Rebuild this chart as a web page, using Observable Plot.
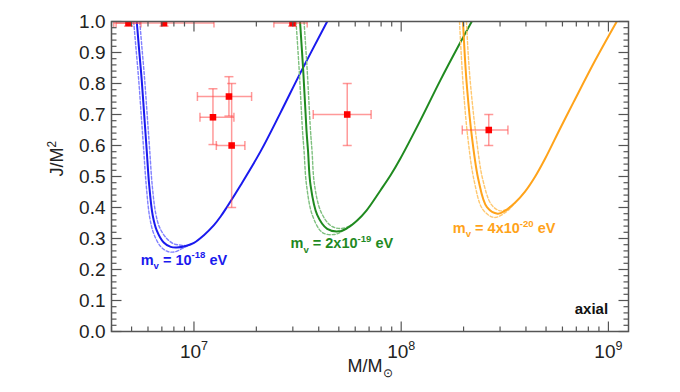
<!DOCTYPE html>
<html><head><meta charset="utf-8">
<script src="https://cdn.jsdelivr.net/npm/d3@7"></script>
<script src="https://cdn.jsdelivr.net/npm/@observablehq/plot@0.6"></script>
<style>body{margin:0;background:#fff;}</style>
</head><body><div id="chart"></div>
<script>
// ---- tick values ----
const xMajorTicks = [1e7, 1e8, 1e9];
const xMinorTicks = [4e6, 5e6, 6e6, 7e6, 8e6, 9e6, 2e7, 3e7, 4e7, 5e7, 6e7, 7e7, 8e7, 9e7, 2e8, 3e8, 4e8, 5e8, 6e8, 7e8, 8e8, 9e8];
const yMajorTicks = [0, 0.1, 0.2, 0.3, 0.4, 0.5, 0.6, 0.7, 0.8, 0.9, 1.0];
const yMinorTicks = [0.02,0.04,0.06,0.08,0.12,0.14,0.16,0.18,0.22,0.24,0.26,0.28,0.32,0.34,0.36,0.38,0.42,0.44,0.46,0.48,0.52,0.54,0.56,0.58,0.62,0.64,0.66,0.68,0.72,0.74,0.76,0.78,0.82,0.84,0.86,0.88,0.92,0.94,0.96,0.98];

// ---- curves: [log10(M/Msun), J/M^2] ----
const blueSolid = [[6.7239,1.000],[6.7335,0.923],[6.7480,0.810],[6.7600,0.697],[6.7720,0.584],[6.7841,0.471],[6.8010,0.374],[6.8202,0.326],[6.8540,0.287],[6.8877,0.273],[6.9166,0.271],[6.9600,0.276],[7.0000,0.286],[7.0467,0.310],[7.0964,0.343],[7.1287,0.371],[7.1576,0.400],[7.2250,0.472],[7.3214,0.581],[7.4178,0.706],[7.5142,0.835],[7.6429,1.000]];
const blueLower = [[6.709,1.0],[6.719,0.923],[6.7335,0.810],[6.7456,0.697],[6.7576,0.584],[6.7697,0.471],[6.7865,0.368],[6.8058,0.316],[6.8395,0.274],[6.8733,0.258],[6.907,0.257],[6.9504,0.270],[6.9840,0.282]];
const blueUpper = [[6.7383,1.0],[6.748,0.923],[6.7624,0.810],[6.7745,0.697],[6.7865,0.584],[6.7986,0.471],[6.8154,0.381],[6.8347,0.335],[6.8684,0.300],[6.9022,0.283],[6.9311,0.279],[6.9600,0.277]];

const greenSolid = [[7.5118,1.0],[7.5272,0.842],[7.5431,0.648],[7.5503,0.584],[7.5624,0.473],[7.5947,0.376],[7.6429,0.331],[7.6988,0.323],[7.7407,0.334],[7.7874,0.358],[7.8322,0.390],[7.8997,0.455],[7.9479,0.503],[7.9961,0.558],[8.0925,0.681],[8.1888,0.810],[8.2852,0.932],[8.3406,1.0]];
const greenLower = [[7.4925,1.0],[7.5079,0.842],[7.5238,0.648],[7.5311,0.584],[7.5431,0.473],[7.5720,0.374],[7.6202,0.319],[7.6780,0.313],[7.7200,0.325],[7.7600,0.344]];
const greenUpper = [[7.5311,1.0],[7.5465,0.842],[7.5624,0.648],[7.5696,0.584],[7.5817,0.473],[7.6130,0.386],[7.6588,0.342],[7.7069,0.332],[7.7407,0.337],[7.7600,0.344]];

const orangeSolid = [[8.2982,1.0],[8.3069,0.890],[8.3175,0.788],[8.3416,0.626],[8.3734,0.487],[8.4139,0.401],[8.4659,0.380],[8.5021,0.390],[8.5503,0.416],[8.5985,0.452],[8.6467,0.500],[8.6949,0.558],[8.7671,0.655],[8.8312,0.739],[8.9358,0.874],[9.0404,1.0]];
const orangeLower = [[8.2814,1.0],[8.2901,0.890],[8.2997,0.788],[8.3214,0.626],[8.3527,0.484],[8.3937,0.394],[8.4491,0.368],[8.5069,0.386],[8.5503,0.416]];
const orangeUpper = [[8.3151,1.0],[8.3238,0.890],[8.3358,0.788],[8.3623,0.626],[8.3937,0.490],[8.4346,0.410],[8.4732,0.390],[8.5021,0.392],[8.5262,0.403]];

// ---- measured points with error bars ----
const pointM   = [4.83e6, 7.17e6, 2.99e7, 1.475e7, 1.235e7, 1.52e7, 5.49e7, 2.646e8];
const pointMlo = [4.21e6, 4.10e6, 2.43e7, 1.039e7, 1.069e7, 1.282e7, 3.763e7, 1.971e8];
const pointMhi = [5.55e6, 1.249e7, 3.52e7, 1.897e7, 1.559e7, 1.761e7, 7.16e7, 3.274e8];
const pointJ   = [0.995, 0.995, 0.995, 0.758, 0.691, 0.60, 0.70, 0.65];
const pointJlo = [0.985, 0.985, 0.985, 0.695, 0.603, 0.40, 0.60, 0.60];
const pointJhi = [1.05, 1.05, 1.05, 0.822, 0.783, 0.80, 0.80, 0.70];

// ---- annotations ----
const labelText = ["m_{v} = 10^{-18} eV", "m_{v} = 2x10^{-19} eV", "m_{v} = 4x10^{-20} eV"];
const labelM = [5.53e6, 2.924e7, 1.775e8];
const labelJ = [0.231, 0.283, 0.333];
const cornerText = ["axial"];
const cornerM = [9.97e8];
const cornerJ = [0.071];

const BLUE = "#1a1aee", GREEN = "#1f8a1f", ORANGE = "#ffa31a";
const BLUE_D = "#8080ff", GREEN_D = "#7fc07f", ORANGE_D = "#ffc870";
const ERR = "rgba(255,70,70,0.55)";
const AX = "#555";

const pts = pointM.map((m, i) => ({M: m, J: pointJ[i], Mlo: pointMlo[i], Mhi: pointMhi[i], Jlo: pointJlo[i], Jhi: pointJhi[i]}));
const labels = labelText.map((t, i) => ({text: t, M: labelM[i], J: labelJ[i], c: [BLUE, GREEN, ORANGE][i]}));

// line-segment symbols (half length = r)
const vCap = {draw(ctx, size) { const h = Math.sqrt(size / Math.PI); ctx.moveTo(0, -h); ctx.lineTo(0, h); }};
const hCap = {draw(ctx, size) { const h = Math.sqrt(size / Math.PI); ctx.moveTo(-h, 0); ctx.lineTo(h, 0); }};

const lx = d => 10 ** d[0], ly = d => d[1];
function curve(data, color, dashed) {
  return Plot.line(data, {x: lx, y: ly, stroke: color, strokeWidth: dashed ? 1.4 : 2,
    strokeDasharray: dashed ? "3,2" : null, curve: "catmull-rom", clip: true});
}
// inward ticks on a frame side
function xTicks(vals, len, side) {
  return Plot.dot(vals, {x: d => d, frameAnchor: side, symbol: vCap, r: len / 2,
    dy: side === "bottom" ? -len / 2 : len / 2, stroke: AX, strokeWidth: 1.2, fill: "none"});
}
function yTicks(vals, len, side) {
  return Plot.dot(vals, {y: d => d, frameAnchor: side, symbol: hCap, r: len / 2,
    dx: side === "left" ? len / 2 : -len / 2, stroke: AX, strokeWidth: 1.2, fill: "none"});
}

const svg = Plot.plot({
  width: 680, height: 392,
  marginLeft: 111, marginRight: 52, marginTop: 21, marginBottom: 61,
  style: {fontFamily: "'Liberation Sans', Arial, Helvetica, sans-serif", background: "#fff"},
  x: {type: "log", domain: [4.0e6, 1.25e9]},
  y: {domain: [0, 1]},
  marks: [
    curve(blueLower, BLUE_D, true), curve(blueUpper, BLUE_D, true), curve(blueSolid, BLUE, false),
    curve(greenLower, GREEN_D, true), curve(greenUpper, GREEN_D, true), curve(greenSolid, GREEN, false),
    curve(orangeLower, ORANGE_D, true), curve(orangeUpper, ORANGE_D, true), curve(orangeSolid, ORANGE, false),
    Plot.link(pts, {x1: "Mlo", x2: "Mhi", y1: "J", y2: "J", stroke: ERR, strokeWidth: 1.5, clip: true}),
    Plot.link(pts, {x1: "M", x2: "M", y1: "Jlo", y2: "Jhi", stroke: ERR, strokeWidth: 1.5, clip: true}),
    Plot.dot(pts, {x: "Mlo", y: "J", symbol: vCap, r: 4.5, stroke: ERR, strokeWidth: 1.5, fill: "none", clip: true}),
    Plot.dot(pts, {x: "Mhi", y: "J", symbol: vCap, r: 4.5, stroke: ERR, strokeWidth: 1.5, fill: "none", clip: true}),
    Plot.dot(pts, {x: "M", y: "Jlo", symbol: hCap, r: 4.5, stroke: ERR, strokeWidth: 1.5, fill: "none", clip: true}),
    Plot.dot(pts, {x: "M", y: "Jhi", symbol: hCap, r: 4.5, stroke: ERR, strokeWidth: 1.5, fill: "none", clip: true}),
    Plot.dot(pts, {x: "M", y: "J", symbol: "square", r: 3.7, fill: "#ff0000", stroke: "none", clip: true}),
    Plot.text(labels, {x: "M", y: "J", text: "text", fill: "c", textAnchor: "start", fontSize: 14.5, fontWeight: "bold"}),
    Plot.text(cornerText.map((t, i) => ({t, M: cornerM[i], J: cornerJ[i]})), {x: "M", y: "J", text: "t", textAnchor: "end", fontSize: 15, fontWeight: "bold", fill: "#111"}),
    // ticks inside on all four sides
    xTicks(xMajorTicks, 10, "bottom"), xTicks(xMinorTicks, 5, "bottom"),
    xTicks(xMajorTicks, 10, "top"), xTicks(xMinorTicks, 5, "top"),
    yTicks(yMajorTicks, 10, "left"), yTicks(yMinorTicks, 5, "left"),
    yTicks(yMajorTicks, 10, "right"), yTicks(yMinorTicks, 5, "right"),
    // tick labels
    Plot.axisY(yMajorTicks, {anchor: "left", tickSize: 0, tickPadding: 6, tickFormat: d3.format(".1f"), fontSize: 19, fill: "#222", label: null}),
    Plot.axisX(xMajorTicks, {anchor: "bottom", tickSize: 0, tickPadding: 13, tickFormat: d => `10^{${Math.round(Math.log10(d))}}`, fontSize: 19, fill: "#222", label: null}),
    Plot.frame({stroke: AX, strokeWidth: 1.5}),
    Plot.text(["J/M^{2}"], {frameAnchor: "left", text: d => d, rotate: -90, dx: -54, fontSize: 18, fill: "#222"}),
    Plot.text(["M/M_{⊙}"], {frameAnchor: "bottom", text: d => d, dy: 40, fontSize: 18, fill: "#222"})
  ]
});
document.getElementById("chart").appendChild(svg);

// turn ^{..} and _{..} into real superscript / subscript tspans
function richify(root) {
  d3.select(root).selectAll("text").each(function () {
    const el = this;
    const s = el.textContent;
    if (!/[\^_]\{/.test(s)) return;
    const fs = parseFloat(getComputedStyle(el).fontSize) || 12;
    const parts = [];
    const re = /([\^_])\{([^}]*)\}/g;
    let last = 0, m;
    while ((m = re.exec(s))) {
      if (m.index > last) parts.push({t: s.slice(last, m.index), k: ""});
      parts.push({t: m[2], k: m[1]});
      last = re.lastIndex;
    }
    if (last < s.length) parts.push({t: s.slice(last), k: ""});
    while (el.firstChild) el.removeChild(el.firstChild);
    let shift = 0;
    for (const p of parts) {
      const ts = document.createElementNS("http://www.w3.org/2000/svg", "tspan");
      const target = p.k === "^" ? -0.42 * fs : p.k === "_" ? 0.3 * fs : 0;
      if (target - shift !== 0) ts.setAttribute("dy", target - shift);
      shift = target;
      if (p.k) ts.setAttribute("font-size", fs * 0.66);
      ts.textContent = p.t;
      el.appendChild(ts);
    }
  });
}
richify(svg);
</script></body></html>
